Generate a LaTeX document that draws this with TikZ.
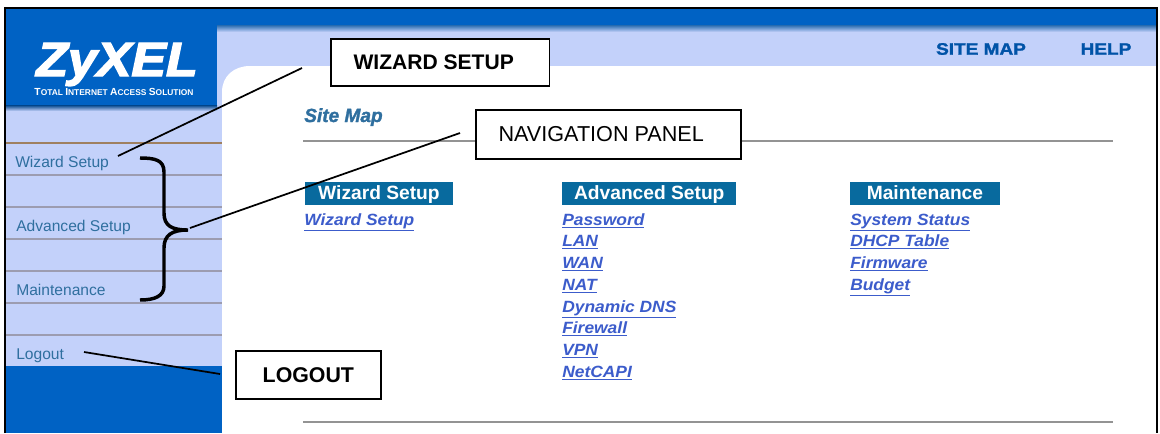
\documentclass[tikz,border=0pt]{standalone}
\usepackage{fontspec}
\setmainfont{Liberation Sans}
\newfontfamily\heavyfont[BoldFont={Liberation Sans Bold},BoldItalicFont={Liberation Sans Bold Italic},BoldFeatures={FakeBold=1.5},BoldItalicFeatures={FakeBold=1.5}]{Liberation Sans}
\newfontfamily\logofont[BoldItalicFont={Liberation Sans Bold Italic},BoldItalicFeatures={FakeBold=3}]{Liberation Sans}
\definecolor{zblue}{HTML}{0062C4}
\definecolor{zpale}{HTML}{C3D1FA}
\definecolor{zline}{HTML}{9C9CB0}
\definecolor{zteal}{HTML}{2F6F9F}
\definecolor{zhead}{HTML}{086A9E}
\definecolor{zlink}{HTML}{3C5CCB}
\newcommand{\fs}[1]{\fontsize{#1}{#1}\selectfont}
\newcommand{\wide}[1]{\scalebox{1.07}[1]{#1}}
\tikzset{
  x=0.75pt,y=-0.75pt,
  menuitem/.style={anchor=base west,inner sep=0pt,text=zteal,font=\fs{11.7}},
  headbox/.style={fill=zhead,text=white,font=\fs{14.4}\bfseries,inner sep=0pt,text height=13pt,text depth=4pt,anchor=north west},
  linkitem/.style={anchor=base west,inner sep=0pt,text=zlink,font=\fs{12.2}\bfseries\itshape},
  callout/.style={draw=black,line width=1.3pt,fill=white,inner sep=0pt,anchor=north west},
  leader/.style={draw=black,line width=1.3pt},
  sep/.style={draw=zline,line width=0.9pt},
  rule/.style={draw=gray!85,line width=1.2pt},
  toplink/.style={anchor=center,inner sep=0pt,text=zblue!85!black,font=\heavyfont\fs{12.4}\bfseries}
}
\begin{document}
\begin{tikzpicture}
\useasboundingbox (0,0) rectangle (1160,433);
% page background
\fill[white] (0,0) rectangle (1160,433);
\fill[zblue] (5,8) rectangle (1157,433);
\fill[zpale] (217,32) rectangle (1157,110);
\shade[top color=zblue!70!gray,bottom color=zpale] (217,25) rectangle (1157,32);
\fill[zpale] (5,105) rectangle (222,366);
\fill[white] (222,433) -- (222,92) .. controls (222,76) and (234,66) .. (250,66) -- (1157,66) -- (1157,433) -- cycle;
\shade[top color=zblue!70!black,bottom color=zpale] (5,105) rectangle (217,111);
% menu separators
\draw[draw=brown!50!gray,line width=1.1pt] (5,143) -- (222,143);
\foreach \yy in {175,207,239,271,303,335}{\draw[sep] (5,\yy) -- (222,\yy);}
% frame
\draw[black,line width=1.6pt] (5,433) -- (5,8) -- (1157,8) -- (1157,433);
% logo
\node[anchor=base,inner sep=0pt,text=white,font=\logofont\fs{36}\bfseries\itshape] (logo) at (117,76) {\scalebox{1.08}[1]{ZyXEL}};
\node[inner sep=0pt,text=white,font=\fs{7.7}\bfseries] (tagline) at (114,92) {T\fs{6.3}OTAL \fs{7.7}I\fs{6.3}NTERNET \fs{7.7}A\fs{6.3}CCESS \fs{7.7}S\fs{6.3}OLUTION};
% top links
\node[toplink] (sitemap) at (981,49) {\scalebox{1.15}[1]{SITE MAP}};
\node[toplink] (help) at (1106,49) {\scalebox{1.15}[1]{HELP}};
% menu
\node[menuitem] (mwiz) at (15,167) {Wizard Setup};
\node[menuitem] (madv) at (16,231) {Advanced Setup};
\node[menuitem] (mmnt) at (16,295) {Maintenance};
\node[menuitem] (mlog) at (16,359) {Logout};
% content
\node[anchor=base west,inner sep=0pt,text=zteal,font=\heavyfont\fs{14.3}\bfseries\itshape] (title) at (304,122) {Site Map};
\draw[rule] (303,141) -- (1113,141);
\draw[rule] (303,422) -- (1113,422);
\node[headbox,minimum width=110.5pt] (h1) at (305,182) {Wizard Setup};
\node[headbox,minimum width=130.5pt] (h2) at (562,182) {Advanced Setup};
\node[headbox,minimum width=112pt] (h3) at (850,182) {Maintenance};
\node[linkitem] (w1) at (304,225) {\wide{\underline{Wizard Setup}}};
\node[linkitem] (a1) at (562,225) {\wide{\underline{Password}}};
\node[linkitem] (a2) at (562,246) {\wide{\underline{LAN}}};
\node[linkitem] (a3) at (562,268) {\wide{\underline{WAN}}};
\node[linkitem] (a4) at (562,290) {\wide{\underline{NAT}}};
\node[linkitem] (a5) at (562,312) {\wide{\underline{Dynamic DNS}}};
\node[linkitem] (a6) at (562,333) {\wide{\underline{Firewall}}};
\node[linkitem] (a7) at (562,355) {\wide{\underline{VPN}}};
\node[linkitem] (a8) at (562,377) {\wide{\underline{NetCAPI}}};
\node[linkitem] (m1) at (850,225) {\wide{\underline{System Status}}};
\node[linkitem] (m2) at (850,246) {\wide{\underline{DHCP Table}}};
\node[linkitem] (m3) at (850,268) {\wide{\underline{Firmware}}};
\node[linkitem] (m4) at (850,290) {\wide{\underline{Budget}}};
% callouts
\node[callout,minimum width=164pt,minimum height=35.25pt,font=\fs{15.8}\bfseries] (cwiz) at (330,38) {WIZARD SETUP\hspace{9.75pt}\null};
\node[callout,minimum width=199pt,minimum height=36.75pt,font=\fs{16.2}] (cnav) at (475,109) {NAVIGATION PANEL\hspace{11pt}\null};
\node[callout,minimum width=108.75pt,minimum height=36pt,font=\fs{16}\bfseries] (clog) at (235,350) {LOGOUT};
% connector ends
\coordinate (wizA) at (118,156);
\coordinate (wizB) at (302,68);
\coordinate (navA) at (190,228);
\coordinate (navB) at (460,133);
\coordinate (logA) at (84,352);
\coordinate (logB) at (220,374);
\coordinate (brTop) at (140,158);
\coordinate (brTip) at (188,230);
\coordinate (brEnd) at (140,300);
\draw[leader] (wizA) -- (wizB);
\draw[leader] (navA) -- (navB);
\draw[leader] (logA) -- (logB);
% brace
\draw[black,line width=2.6pt] (brTop) .. controls (155,158) and (164,160) .. (164,172) -- (164,213) .. controls (164,226) and (172,230) .. (brTip)
  .. controls (172,230) and (164,235) .. (164,248) -- (164,286) .. controls (164,296) and (155,300) .. (brEnd);
\end{tikzpicture}
\end{document}
